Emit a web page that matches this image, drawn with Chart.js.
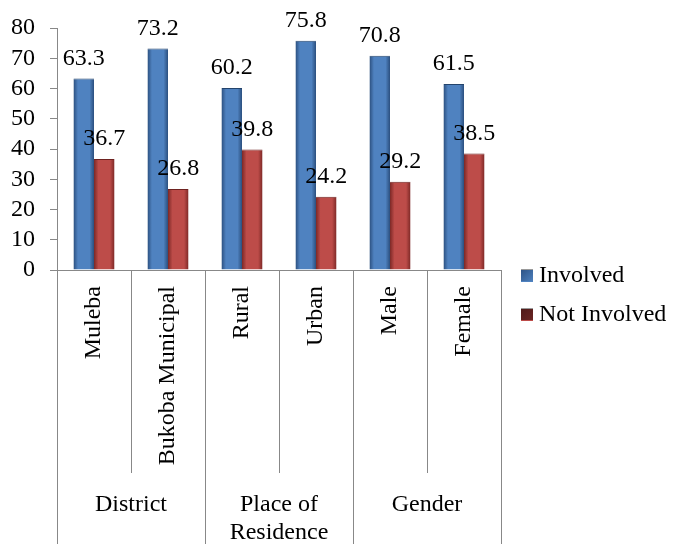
<!DOCTYPE html>
<html>
<head>
<meta charset="utf-8">
<title>Involvement by district, residence and gender</title>
<script src="https://cdn.jsdelivr.net/npm/chart.js@4.4.1/dist/chart.umd.min.js"></script>
<style>
    html, body { margin: 0; padding: 0; background: #fff; }
    #wrap { width: 674px; height: 544px; }
</style>
</head>
<body>
<div id="wrap"><canvas id="chart" width="674" height="544"></canvas></div>
<script>
// Kategorien und Werte (Prozent)
const categories = ["Muleba", "Bukoba Municipal", "Rural", "Urban", "Male", "Female"];
const groupLabels = [["District"], ["Place of", "Residence"], ["Gender"]];
const groupSizes = [2, 2, 2];
const seriesNames = ["Involved", "Not Involved"];
const involved = [63.3, 73.2, 60.2, 75.8, 70.8, 61.5];
const notInvolved = [36.7, 26.8, 39.8, 24.2, 29.2, 38.5];
const yMin = 0;
const yMax = 80;
const yStep = 10;

const FONT = "'Liberation Serif', 'Times New Roman', serif";
const FONT_SIZE = 24;
const AXIS = "#888888";
const CAT_PCT = 0.555;

const BLUE = { dark: "#2b4f7e", light: "#4f82c0", top: "#24446c" };
const RED = { dark: "#7c2826", light: "#bd4c49", top: "#6e2220" };

/**
 * Liefert einen horizontalen Verlauf pro Balken (dunkle Kanten, heller Kern).
 */
function barFill(col) {
    return function (ctx) {
        const xs = ctx.chart.scales.x;
        if (!xs || ctx.dataIndex === undefined) return col.light;
        const step = xs.width / categories.length;
        const c = xs.getPixelForValue(ctx.dataIndex);
        if (!isFinite(step) || !isFinite(c) || step <= 0) return col.light;
        const pair = step * CAT_PCT;
        const x0 = ctx.datasetIndex === 0 ? c - pair / 2 : c;
        const x1 = x0 + pair / 2;
        const g = ctx.chart.ctx.createLinearGradient(x0, 0, x1, 0);
        g.addColorStop(0, col.dark);
        g.addColorStop(0.22, col.light);
        g.addColorStop(0.78, col.light);
        g.addColorStop(1, col.dark);
        return g;
    };
}

// Werte über den Balken
const valueLabels = {
    id: "valueLabels",
    afterDatasetsDraw(chart) {
        const ctx = chart.ctx;
        ctx.save();
        ctx.font = FONT_SIZE + "px " + FONT;
        ctx.fillStyle = "#000";
        ctx.textAlign = "center";
        ctx.textBaseline = "alphabetic";
        chart.data.datasets.forEach((ds, di) => {
            chart.getDatasetMeta(di).data.forEach((bar, i) => {
                ctx.fillText(ds.data[i].toFixed(1), bar.x, bar.y - 14);
            });
        });
        ctx.restore();
    }
};

// Zweistufige Kategorieachse: gedrehte Beschriftungen, Trennlinien, Gruppen
const groupAxis = {
    id: "groupAxis",
    afterDraw(chart) {
        const ctx = chart.ctx;
        const xs = chart.scales.x;
        const step = xs.width / categories.length;
        const top = xs.top;
        const bottom = chart.height;

        ctx.save();
        ctx.strokeStyle = AXIS;
        ctx.lineWidth = 1;

        // Trennlinien zwischen den Kategorien
        let idx = 0;
        const boundaries = [0];
        groupSizes.forEach(n => { idx += n; boundaries.push(idx); });
        for (let i = 0; i <= categories.length; i++) {
            const x = Math.round(xs.getPixelForValue(i) - step / 2) + 0.5;
            const y2 = boundaries.includes(i) ? bottom : top + 203;
            ctx.beginPath();
            ctx.moveTo(x, top);
            ctx.lineTo(x, y2);
            ctx.stroke();
        }

        // gedrehte Kategorienamen
        ctx.font = FONT_SIZE + "px " + FONT;
        ctx.fillStyle = "#000";
        categories.forEach((label, i) => {
            const x = xs.getPixelForValue(i);
            ctx.save();
            ctx.translate(x, top + 16);
            ctx.rotate(-Math.PI / 2);
            ctx.textAlign = "right";
            ctx.textBaseline = "middle";
            ctx.fillText(label, 0, 0);
            ctx.restore();
        });

        // Gruppennamen
        ctx.textAlign = "center";
        ctx.textBaseline = "alphabetic";
        let start = 0;
        groupLabels.forEach((lines, g) => {
            const end = start + groupSizes[g] - 1;
            const cx = (xs.getPixelForValue(start) + xs.getPixelForValue(end)) / 2;
            lines.forEach((line, li) => {
                ctx.fillText(line, cx, top + 241 + li * 28);
            });
            start = end + 1;
        });
        ctx.restore();
    }
};

// Legende rechts neben dem Diagramm
const sideLegend = {
    id: "sideLegend",
    afterDraw(chart) {
        const ctx = chart.ctx;
        const cols = [BLUE, RED];
        ctx.save();
        ctx.font = FONT_SIZE + "px " + FONT;
        ctx.textBaseline = "alphabetic";
        seriesNames.forEach((name, i) => {
            const x = 521;
            const y = 269 + i * 39;
            const g = ctx.createLinearGradient(x, y, x + 12, y + 12);
            if (i === 0) {
                g.addColorStop(0, "#2c5284");
                g.addColorStop(1, "#4d80bd");
            } else {
                g.addColorStop(0, "#4e1a19");
                g.addColorStop(1, "#6a2523");
            }
            ctx.fillStyle = g;
            ctx.fillRect(x, y, 12, 12);
            ctx.fillStyle = "#9a9a9a";
            ctx.fillRect(x, y, 12, 1);
            ctx.fillStyle = cols[i].light;
            ctx.fillRect(x, y + 12, 12, 1);
            ctx.fillStyle = "#000";
            ctx.fillText(name, 539, y + 13);
        });
        ctx.restore();
    }
};

function initChart() {
    const canvas = document.getElementById("chart");
    new Chart(canvas.getContext("2d"), {
        type: "bar",
        data: {
            labels: categories,
            datasets: [{
                label: seriesNames[0],
                data: involved,
                backgroundColor: barFill(BLUE),
                borderColor: BLUE.top,
                borderWidth: { top: 1, left: 0, right: 0, bottom: 0 },
                categoryPercentage: CAT_PCT,
                barPercentage: 1
            }, {
                label: seriesNames[1],
                data: notInvolved,
                backgroundColor: barFill(RED),
                borderColor: RED.top,
                borderWidth: { top: 1, left: 0, right: 0, bottom: 0 },
                categoryPercentage: CAT_PCT,
                barPercentage: 1
            }]
        },
        options: {
            responsive: false,
            animation: false,
            devicePixelRatio: 1,
            layout: { padding: { top: 28, right: 173, left: 0, bottom: 0 } },
            plugins: {
                legend: { display: false },
                tooltip: { enabled: false }
            },
            scales: {
                x: {
                    grid: { display: false },
                    border: { display: true, color: AXIS },
                    ticks: { display: false },
                    afterFit: axis => { axis.height = 274; }
                },
                y: {
                    min: yMin,
                    max: yMax,
                    ticks: {
                        stepSize: yStep,
                        autoSkip: false,
                        maxTicksLimit: 20,
                        color: "#000",
                        padding: 15,
                        font: { family: FONT, size: FONT_SIZE, lineHeight: 1 }
                    },
                    grid: { drawOnChartArea: false, tickLength: 7, color: AXIS },
                    border: { color: AXIS },
                    afterFit: axis => { axis.width = 57; }
                }
            }
        },
        plugins: [valueLabels, groupAxis, sideLegend]
    });
}

initChart();
</script>
</body>
</html>
